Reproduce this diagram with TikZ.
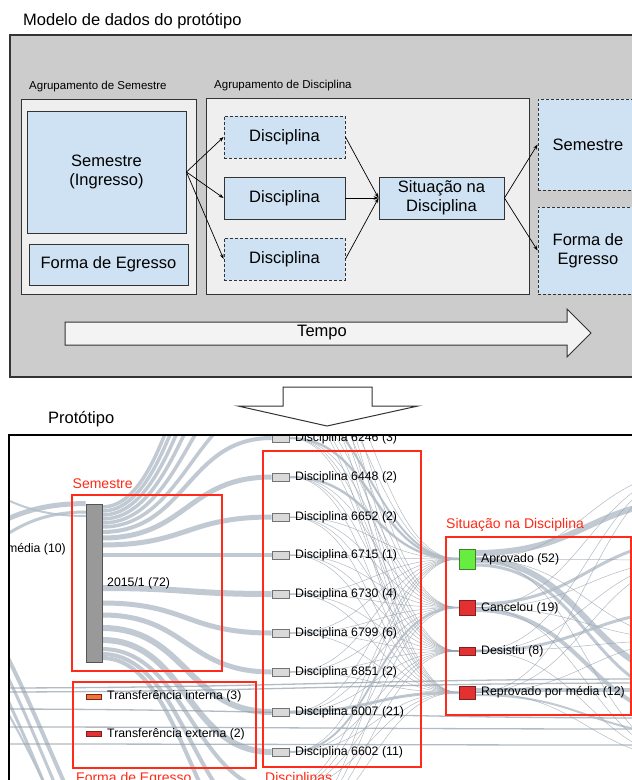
\documentclass[tikz,border=0pt]{standalone}
\usepackage{fontspec}
\setmainfont{Liberation Sans}
\usetikzlibrary{arrows.meta,backgrounds}

\newlength{\du}
\setlength{\du}{1\unitlength}

\definecolor{panelgray}{rgb}{0.800000, 0.800000, 0.800000}
\definecolor{groupfill}{rgb}{0.937000, 0.937000, 0.937000}
\definecolor{cellblue}{rgb}{0.812000, 0.886000, 0.953000}
\definecolor{edgegray}{rgb}{0.200000, 0.200000, 0.200000}
\definecolor{arrowfill}{rgb}{0.953000, 0.953000, 0.953000}
\definecolor{markred}{rgb}{1.000000, 0.165000, 0.090000}
\definecolor{flowgray}{rgb}{0.700000, 0.740000, 0.780000}
\definecolor{threadgray}{rgb}{0.580000, 0.620000, 0.660000}
\definecolor{okgreen}{rgb}{0.400000, 0.930000, 0.250000}
\definecolor{okgreenedge}{rgb}{0.250000, 0.500000, 0.200000}
\definecolor{badred}{rgb}{0.890000, 0.190000, 0.190000}
\definecolor{badrededge}{rgb}{0.500000, 0.120000, 0.120000}
\definecolor{transorange}{rgb}{0.930000, 0.470000, 0.200000}
\definecolor{barfill}{rgb}{0.600000, 0.600000, 0.600000}
\definecolor{baredge}{rgb}{0.330000, 0.330000, 0.330000}
\definecolor{discfill}{rgb}{0.850000, 0.850000, 0.850000}
\definecolor{discedge}{rgb}{0.450000, 0.450000, 0.450000}

\tikzset{
  bigtext/.style={font=\fontsize{16.5}{19}\selectfont},
  smalltext/.style={font=\fontsize{12.3}{14}\selectfont, inner sep=0pt, anchor=west},
  redtext/.style={font=\fontsize{14}{16}\selectfont, text=markred, inner sep=0pt},
  grouplabel/.style={font=\fontsize{11.5}{13}\selectfont, anchor=west, inner sep=0pt},
  panelbox/.style={draw=edgegray, fill=panelgray, line width=1.2pt, inner sep=0pt},
  groupbox/.style={draw=edgegray, fill=groupfill, line width=1pt, inner sep=0pt},
  cellbox/.style={draw=edgegray, fill=cellblue, line width=0.9pt, bigtext, align=center, inner sep=0pt},
  ghostbox/.style={cellbox, dash pattern=on 3pt off 2pt},
  modelarrow/.style={-{Stealth[length=5pt,width=3.6pt]}, line width=0.7pt, draw=black},
  bigarrow/.style={draw=edgegray, line width=1pt},
  redframe/.style={draw=markred, line width=2pt, inner sep=0pt},
  sankeyband/.style={draw=flowgray, draw opacity=0.8, out=0, in=180, distance=85pt},
  sankeythread/.style={draw=threadgray, draw opacity=0.7, line width=0.5pt, out=0, in=180, distance=85pt},
  discnode/.style={draw=discedge, fill=discfill, line width=0.6pt, minimum width=17pt, minimum height=8pt, inner sep=0pt},
  outcomenode/.style={line width=0.6pt, minimum width=16pt, inner sep=0pt},
  transnode/.style={line width=0.6pt, minimum width=15pt, minimum height=5pt, inner sep=0pt}
}

\begin{document}
\begin{tikzpicture}
\pgftransformxscale{1.000000}
\pgftransformyscale{-1.000000}
\useasboundingbox (0\du,0\du) rectangle (632\du,780\du);
\clip (0\du,0\du) rectangle (632\du,780\du);
\begin{scope}[on background layer]
\fill[white] (0\du,0\du) rectangle (632\du,780\du);
\end{scope}

% modelo de dados
\node[bigtext, anchor=west, inner sep=0pt] (modeltitle) at (23\du,21.5\du) {Modelo de dados do protótipo};
\node[panelbox, minimum width=640pt, minimum height=342pt] (modelpanel) at (330\du,206\du) {};
\node[grouplabel] (semgrouplabel) at (29\du,87\du) {Agrupamento de Semestre};
\node[grouplabel] (discgrouplabel) at (214\du,86\du) {Agrupamento de Disciplina};
\node[groupbox, minimum width=175pt, minimum height=195pt] (semgroup) at (108.5\du,196.5\du) {};
\node[groupbox, minimum width=323pt, minimum height=196pt] (discgroup) at (367.5\du,196\du) {};
\node[cellbox, minimum width=159pt, minimum height=122pt] (semcell) at (106.5\du,172\du) {Semestre\\(Ingresso)};
\node[cellbox, minimum width=159pt, minimum height=41pt] (egrcell) at (108.5\du,264.5\du) {Forma de Egresso};
\node[ghostbox, minimum width=121pt, minimum height=42pt] (disccellA) at (284.5\du,137\du) {Disciplina};
\node[cellbox, minimum width=121pt, minimum height=42pt] (disccellB) at (284.5\du,198\du) {Disciplina};
\node[ghostbox, minimum width=121pt, minimum height=42pt] (disccellC) at (284.5\du,259\du) {Disciplina};
\node[cellbox, minimum width=125pt, minimum height=42pt] (sitcell) at (441.5\du,198\du) {Situação na\\Disciplina};
\node[ghostbox, minimum width=100pt, minimum height=91pt] (nextsem) at (588\du,144.5\du) {Semestre};
\node[ghostbox, minimum width=100pt, minimum height=87pt] (nextegr) at (588\du,250.5\du) {Forma de\\Egresso};

\draw[modelarrow] (semcell.east) -- (disccellA.west);
\draw[modelarrow] (semcell.east) -- (disccellB.west);
\draw[modelarrow] (semcell.east) -- (disccellC.west);
\draw[modelarrow] (disccellA.east) -- (sitcell.west);
\draw[modelarrow] (disccellB.east) -- (sitcell.west);
\draw[modelarrow] (disccellC.east) -- (sitcell.west);
\draw[modelarrow] (sitcell.east) -- (nextsem.west);
\draw[modelarrow] (sitcell.east) -- (nextegr.west);

\draw[bigarrow, fill=arrowfill] (65\du,322\du) -- (567\du,322\du) -- (567\du,309\du) -- (591\du,333\du) -- (567\du,357\du) -- (567\du,345\du) -- (65\du,345\du) -- cycle;
\node[bigtext] (tempolabel) at (322\du,333\du) {Tempo};

\draw[bigarrow, fill=white] (283\du,387\du) -- (372\du,387\du) -- (372\du,406\du) -- (418\du,406\du) -- (327\du,426\du) -- (238\du,406\du) -- (283\du,406\du) -- cycle;

% prototipo
\node[bigtext, anchor=west, inner sep=0pt] (prototitle) at (48\du,419\du) {Protótipo};

\begin{scope}
\clip (9\du,435\du) rectangle (640\du,790\du);
\node[smalltext, anchor=east] (prevlabel) at (66\du,549\du) {média (10)};
\node[draw=baredge, fill=barfill, line width=0.8pt, minimum width=16pt, minimum height=158pt, inner sep=0pt] (sembar) at (94\du,583\du) {};
\node[smalltext] (sembarlabel) at (107\du,583\du) {2015/1 (72)};
\node[transnode, draw=badrededge, fill=transorange] (transint) at (93.5\du,696.5\du) {};
\node[smalltext] (transintlabel) at (107\du,696\du) {Transferência interna (3)};
\node[transnode, draw=badrededge, fill=badred] (transext) at (93.5\du,733.5\du) {};
\node[smalltext] (transextlabel) at (107\du,734\du) {Transferência externa (2)};
\foreach \discno/\ypos/\disccount in {6246/438/3,6448/477/2,6652/517/2,6715/555/1,6730/594/4,6799/633/6,6851/672/2,6007/712/21,6602/752/11}{
  \node[discnode] (d\discno) at (280.5\du,\ypos\du) {};
  \node[smalltext] (dlabel\discno) at (295\du,\ypos\du) {Disciplina \discno\ (\disccount)};
}
\foreach \k/\ypos in {1/399,2/360,3/320,4/281,5/242,6/203}
  \coordinate (dup\k) at (280.5\du,\ypos\du);
\foreach \k/\ypos in {1/791,2/830,3/870}
  \coordinate (dlow\k) at (280.5\du,\ypos\du);
\node[outcomenode, draw=okgreenedge, fill=okgreen, minimum height=20pt] (aprov) at (467\du,559\du) {};
\node[smalltext] (aprovlabel) at (481\du,559\du) {Aprovado (52)};
\node[outcomenode, draw=badrededge, fill=badred, minimum height=15pt] (cancel) at (467\du,607.5\du) {};
\node[smalltext] (cancellabel) at (481\du,608\du) {Cancelou (19)};
\node[outcomenode, draw=badrededge, fill=badred, minimum height=8pt] (desist) at (467\du,651\du) {};
\node[smalltext] (desistlabel) at (481\du,651\du) {Desistiu (8)};
\node[outcomenode, draw=badrededge, fill=badred, minimum height=13pt] (reprov) at (467\du,692.5\du) {};
\node[smalltext] (reprovlabel) at (481\du,692\du) {Reprovado por média (12)};
\end{scope}

\begin{scope}[on background layer]
\clip (9\du,435\du) rectangle (640\du,790\du);
\coordinate (barinA) at (86\du,512\du);
\coordinate (barinB) at (86\du,516\du);
\foreach \k/\ypos in {1/980,2/1010,3/1040,4/1000}
  \coordinate (lowexit\k) at (250\du,\ypos\du);
\foreach \k/\ypos in {1/679,2/683,3/718,4/729,5/745}
  \coordinate (crossexit\k) at (660\du,\ypos\du);
\foreach \k/\ypos in {1/500,2/680,3/700,4/540,5/720,6/610,7/690,8/735}
  \coordinate (nextin\k) at (700\du,\ypos\du);
\foreach \k/\ypos in {1/470,2/560,3/640,4/760}
  \coordinate (nextthread\k) at (700\du,\ypos\du);

\foreach \yy/\dst/\bandw in {507/dup6/3.5,511/dup5/3.5,515/dup4/3.5,519/dup3/3.5,523/dup2/3.5,527/dup1/3.5,532/d6246/4,538/d6448/5,545/d6652/5,555/d6715/4,588/d6730/6,603/d6799/5,615/d6851/5,628/d6007/6,640/d6602/6,649/dlow1/4,654/dlow2/4,658/dlow3/4}
  \draw[sankeyband, line width=\bandw pt] (102\du,\yy\du) to (\dst.west);
\draw[sankeyband, line width=5pt, distance=93pt] (-100\du,548\du) to (sembar.north west);
\draw[sankeyband, line width=3pt, distance=93pt] (-100\du,575\du) to (barinA);
\draw[sankeyband, line width=2pt, distance=93pt] (-100\du,470\du) to (barinB);
\foreach \yy/\k/\bandw in {520/1/4,535/2/3,555/3/3,590/4/2}
  \draw[sankeyband, line width=\bandw pt, distance=200pt] (-150\du,\yy\du) to (lowexit\k);
\foreach \yy/\k in {688/1,692/2,709/3,727/4,744/5}
  \draw[sankeythread, line width=1.3pt, distance=300pt] (-20\du,\yy\du) to (crossexit\k);
\foreach \srcnode in {d6246,d6448,d6652,d6715,d6730,d6799,d6851,d6007,d6602,dup1,dup2,dup3,dlow1,dlow2}
  \foreach \dst in {aprov,cancel,desist,reprov}
    \draw[sankeythread] (\srcnode.east) to (\dst.west);
\draw[sankeyband, line width=2.5pt] (d6246.east) to (aprov.west);
\draw[sankeyband, line width=2.5pt] (d6448.east) to (aprov.west);
\draw[sankeyband, line width=2pt] (dup1.east) to (aprov.west);
\draw[sankeyband, line width=2pt] (d6602.east) to (cancel.west);
\draw[sankeyband, line width=3pt] (d6007.east) to (reprov.west);
\foreach \yy/\k/\bandw in {553/1/6,560/2/6,565/3/3,604/4/3,610/5/4,651/6/3,690/7/4,695/8/2}
  \draw[sankeyband, line width=\bandw pt, distance=110pt] (475\du,\yy\du) to (nextin\k);
\foreach \srcnode in {aprov,cancel,desist,reprov}
  \foreach \k in {1,2,3,4}
    \draw[sankeythread, distance=110pt] (\srcnode.east) to (nextthread\k);
\end{scope}

\node[redframe, minimum width=150pt, minimum height=176pt] (semframe) at (147\du,583\du) {};
\node[redframe, minimum width=183pt, minimum height=86pt] (egrframe) at (164.5\du,725\du) {};
\node[redframe, minimum width=158pt, minimum height=316pt] (discframe) at (342\du,609\du) {};
\node[redframe, minimum width=185pt, minimum height=178pt] (sitframe) at (538.5\du,626\du) {};
\node[redtext, anchor=west] (semframelabel) at (72.5\du,484\du) {Semestre};
\node[redtext, anchor=base west] (egrframelabel) at (76\du,782\du) {Forma de Egresso};
\node[redtext, anchor=base west] (discframelabel) at (265\du,782\du) {Disciplinas};
\node[redtext, anchor=west] (sitframelabel) at (446\du,525\du) {Situação na Disciplina};

\draw[line width=1.5pt, draw=black] (9\du,790\du) -- (9\du,435\du) -- (640\du,435\du);
\end{tikzpicture}
\end{document}
